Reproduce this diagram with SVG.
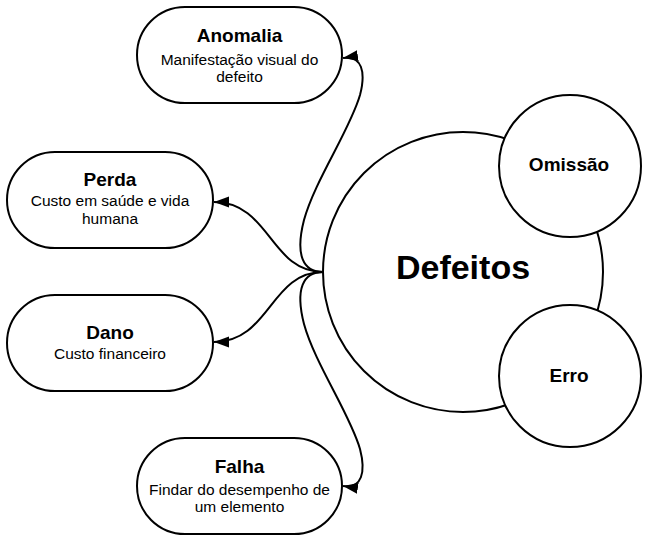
<svg xmlns="http://www.w3.org/2000/svg" width="650" height="543" viewBox="0 0 650 543">
<defs>
<marker id="arr" markerUnits="userSpaceOnUse" markerWidth="16" markerHeight="12" refX="15" refY="5.5" orient="auto">
<path d="M0,0 L15,5.5 L0,11 Z" fill="#000"/>
</marker>
<style>
.shape{fill:#fff;stroke:#000;stroke-width:2}
.t{font-family:"Liberation Sans",Arial,sans-serif;text-anchor:middle;fill:#000}
.title{font-weight:bold;font-size:19px}
.sub{font-size:15.5px}
.conn{fill:none;stroke:#000;stroke-width:2;marker-end:url(#arr)}
</style>
</defs>
<rect width="650" height="543" fill="#fff"/>
<g id="connectors">
<path class="conn" d="M323,272 C303,272 295,255 304,220 C315,180 350,130 360,95 C366,72 362,55 343,58"/>
<path class="conn" d="M323,272 C270,272 270,202 214,202"/>
<path class="conn" d="M323,272 C270,272 270,342 214,342"/>
<path class="conn" d="M323,272 C303,272 295,289 304,324 C315,364 350,414 360,449 C366,472 362,489 343,486"/>
</g>
<g id="defeitos">
<circle class="shape" cx="463" cy="272" r="140"/>
<text class="t" x="463" y="279" font-size="34" font-weight="bold">Defeitos</text>
</g>
<g id="omissao">
<circle class="shape" cx="570" cy="166" r="71"/>
<text class="t title" x="569" y="171">Omissão</text>
</g>
<g id="erro">
<circle class="shape" cx="570" cy="376" r="71"/>
<text class="t title" x="569" y="382">Erro</text>
</g>
<g id="anomalia">
<rect class="shape" x="137" y="7" width="205" height="96" rx="48"/>
<text class="t title" x="239.5" y="42">Anomalia</text>
<text class="t sub" x="239.5" y="64.5">Manifestação visual do</text>
<text class="t sub" x="239.5" y="82">defeito</text>
</g>
<g id="perda">
<rect class="shape" x="7" y="152" width="206" height="96" rx="48"/>
<text class="t title" x="110" y="186">Perda</text>
<text class="t sub" x="110" y="206">Custo em saúde e vida</text>
<text class="t sub" x="110" y="224">humana</text>
</g>
<g id="dano">
<rect class="shape" x="7" y="295" width="206" height="96" rx="48"/>
<text class="t title" x="110" y="338.5">Dano</text>
<text class="t sub" x="110" y="358.5">Custo financeiro</text>
</g>
<g id="falha">
<rect class="shape" x="137" y="438" width="205" height="96" rx="48"/>
<text class="t title" x="239.5" y="473">Falha</text>
<text class="t sub" x="239.5" y="494.5">Findar do desempenho de</text>
<text class="t sub" x="239.5" y="512">um elemento</text>
</g>
</svg>
